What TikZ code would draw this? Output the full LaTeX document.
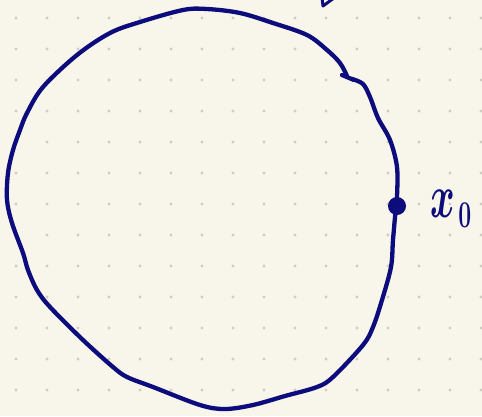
\RequirePackage{fix-cm}
\documentclass[tikz,border=0pt]{standalone}
\usepackage{tikz}
\usetikzlibrary{positioning}
\definecolor{nbPaper}{HTML}{F8F6EB}
\definecolor{nbDot}{HTML}{CFCDC3}
\definecolor{nbInk}{HTML}{0C0C7C}
\tikzset{
    % Page
    gridDot/.style={fill=nbDot},
    % Ink
    inkLine/.style={draw=nbInk, line width=4.3pt, line cap=round, line join=round},
    inkPoint/.style={circle, fill=nbInk, draw=none, minimum size=18pt, inner sep=0pt},
    inkLabel/.style={text=nbInk, inner sep=0pt, font=\fontsize{44}{44}\selectfont\boldmath, xscale=0.85, yscale=1.4}
}

\begin{document}
\begin{tikzpicture}[x=1pt, y=-1pt]
\useasboundingbox (0,0) rectangle (482,416);
\fill[nbPaper] (0,0) rectangle (482,416);
\foreach \i in {0,...,15}
  \foreach \j in {0,...,12}
    \fill[gridDot] (16+31*\i, 18+31*\j) circle (1.6pt);

% the closed loop
\draw[inkLine] plot[smooth, tension=0.55] coordinates {
  (352,79) (363,84) (370,97) (378,118) (390,140) (397,167) (397,197)
  (396,206) (393,240) (391,267) (382,300) (373,327) (363,345) (333,377)
  (317,387) (285,396) (253,405) (225,409) (200,405) (153,387) (127,377)
  (113,367) (83,340) (50,307) (37,290) (28,270) (23,253) (12,223) (7,200)
  (8,173) (13,150) (20,130) (27,113) (43,87) (77,55) (110,33) (140,22)
  (183,10) (207,9) (240,13) (273,23) (307,35) (327,50) (340,63) (347,76)};
\draw[inkLine] (342,75) -- (354,80);

% point and label
\node[inkPoint] (xzero) at (397,206) {};
\node[inkLabel, right=24pt of xzero, yshift=-2pt] (xlabel)
  {$x_{\kern4pt\hbox{\fontsize{27}{27}\selectfont\boldmath$0$}}$};

% cut-off arrow tip at the top
\coordinate (tipA) at (322,-2);
\coordinate (tipB) at (323,6);
\coordinate (tipC) at (334,-2);
\draw[inkLine, line width=3pt] (tipA) -- (tipB) -- (tipC);
\end{tikzpicture}
\end{document}
